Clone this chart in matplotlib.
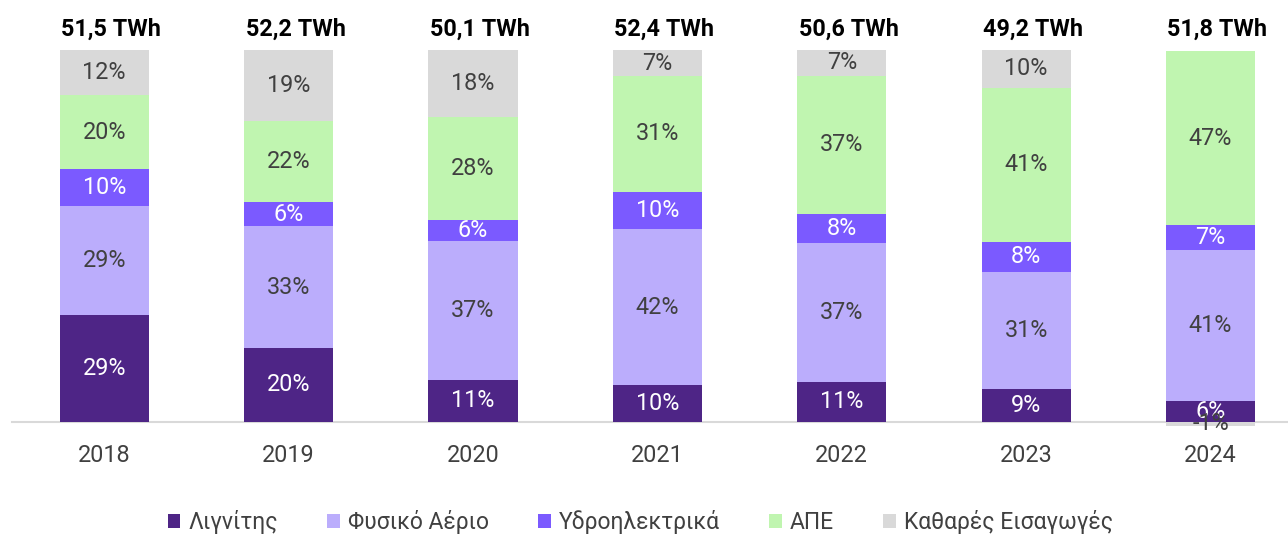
#!/usr/bin/env python3
"""
Greek electricity mix 2018-2024: stacked 100% bars with yearly totals
"""

import matplotlib
matplotlib.use("Agg")
import matplotlib.pyplot as plt
import matplotlib.patches as patches
import numpy as np

plt.rcParams['font.family'] = ['Roboto', 'DejaVu Sans']

YEARS = ["2018", "2019", "2020", "2021", "2022", "2023", "2024"]
TOTALS = ["51,5 TWh", "52,2 TWh", "50,1 TWh", "52,4 TWh", "50,6 TWh", "49,2 TWh", "51,8 TWh"]

SERIES_NAMES = ["Λιγνίτης", "Φυσικό Αέριο", "Υδροηλεκτρικά", "ΑΠΕ", "Καθαρές Εισαγωγές"]

# shares in %
lignite = [28.7, 19.7, 11.2, 9.8, 10.7, 8.8, 5.6]
gas = [29.4, 32.9, 37.4, 41.9, 37.4, 31.4, 40.6]
hydro = [9.8, 6.4, 5.7, 10.2, 7.8, 8.2, 6.8]
res = [19.9, 21.8, 27.7, 31.1, 37.2, 41.4, 46.6]
imports = [12.2, 19.2, 18.0, 7.0, 6.9, 10.2, -1.2]

COLORS = ["#4E2586", "#BBADFC", "#7B5AFF", "#C0F5B0", "#D9D9D9"]
TEXT_COLORS = ["white", "#404040", "white", "#404040", "#404040"]

W, H = 1288, 535
PX_PER_PCT = 3.715
BASE_PX = 421.5
FS = 16.8

fig = plt.figure(figsize=(W / 100, H / 100), dpi=100)
ax = fig.add_axes([12 / W, (H - BASE_PX) / H, (W - 12) / W, BASE_PX / H])
ax.set_ylim(0, BASE_PX / PX_PER_PCT)
ax.set_xlim(-0.5, 6.42)

x = np.arange(len(YEARS))
width = 0.483
data = [lignite, gas, hydro, res, imports]

pos_bottom = np.zeros(len(YEARS))
neg_bottom = np.zeros(len(YEARS))
for vals, color, tcolor in zip(data, COLORS, TEXT_COLORS):
    vals = np.array(vals)
    bottoms = np.where(vals >= 0, pos_bottom, neg_bottom)
    ax.bar(x, vals, width, bottom=bottoms, color=color, edgecolor='none',
           clip_on=False, zorder=2)
    for xi, v, b in zip(x, vals, bottoms):
        ax.text(xi, b + v / 2, f"{round(v):d}%", ha='center', va='center',
                fontsize=FS, color=tcolor, zorder=3, clip_on=False)
    pos_bottom = pos_bottom + np.where(vals >= 0, vals, 0)
    neg_bottom = neg_bottom + np.where(vals < 0, vals, 0)

# total labels sit slightly right of the bar centre, as in the source
for xi, t in zip(x, TOTALS):
    ax.annotate(t, (xi, 105.6), xytext=(5, 0), textcoords='offset points',
                ha='center', va='center', fontsize=FS,
                fontweight='bold', color='black')

for side in ['top', 'right', 'left']:
    ax.spines[side].set_visible(False)
ax.spines['bottom'].set_color('#D9D9D9')
ax.spines['bottom'].set_linewidth(1.5)
ax.spines['bottom'].set_zorder(1)

ax.set_yticks([])
ax.set_xticks(x)
ax.set_xticklabels(YEARS, fontsize=FS, color='#404040')
ax.tick_params(axis='x', length=0, pad=16)

handles = [patches.Patch(facecolor=c, edgecolor='none') for c in COLORS]
fig.legend(handles, SERIES_NAMES, loc='lower center', bbox_to_anchor=(0.497, -0.037),
           ncol=5, frameon=False, fontsize=16.5, handlelength=0.55, handleheight=0.55,
           handletextpad=0.35, columnspacing=2.15, labelcolor='#404040')

fig.savefig("out.png", dpi=100)
plt.close(fig)
